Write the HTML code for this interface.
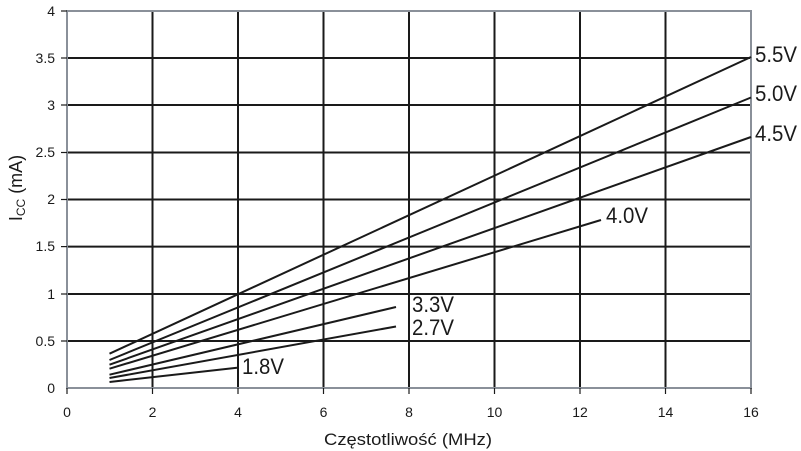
<!DOCTYPE html>
<html><head><meta charset="utf-8"><style>
html,body{margin:0;padding:0;background:#fff;}
svg{display:block;}
text{font-family:"Liberation Sans",Arial,sans-serif;fill:#1a1a1a;}
</style></head><body>
<svg width="801" height="451" viewBox="0 0 801 451" xmlns="http://www.w3.org/2000/svg">
<g stroke="#1a1a1a" stroke-width="2">
<line x1="152.5" y1="11" x2="152.5" y2="388"/>
<line x1="238" y1="11" x2="238" y2="388"/>
<line x1="323.5" y1="11" x2="323.5" y2="388"/>
<line x1="409" y1="11" x2="409" y2="388"/>
<line x1="494.5" y1="11" x2="494.5" y2="388"/>
<line x1="580" y1="11" x2="580" y2="388"/>
<line x1="665.5" y1="11" x2="665.5" y2="388"/>
<line x1="67" y1="58" x2="751" y2="58"/>
<line x1="67" y1="105" x2="751" y2="105"/>
<line x1="67" y1="152.5" x2="751" y2="152.5"/>
<line x1="67" y1="199.5" x2="751" y2="199.5"/>
<line x1="67" y1="246.6" x2="751" y2="246.6"/>
<line x1="67" y1="294" x2="751" y2="294"/>
<line x1="67" y1="341" x2="751" y2="341"/>
</g>
<rect x="67" y="11" width="684" height="377" fill="none" stroke="#8a9099" stroke-width="2"/>
<g stroke="#1a1a1a" stroke-width="1.2">
<line x1="67" y1="388" x2="67" y2="394"/><line x1="152.5" y1="388" x2="152.5" y2="394"/><line x1="238" y1="388" x2="238" y2="394"/><line x1="323.5" y1="388" x2="323.5" y2="394"/><line x1="409" y1="388" x2="409" y2="394"/><line x1="494.5" y1="388" x2="494.5" y2="394"/><line x1="580" y1="388" x2="580" y2="394"/><line x1="665.5" y1="388" x2="665.5" y2="394"/><line x1="751" y1="388" x2="751" y2="394"/>
<line x1="61" y1="11" x2="67" y2="11"/><line x1="61" y1="58" x2="67" y2="58"/><line x1="61" y1="105" x2="67" y2="105"/><line x1="61" y1="152.5" x2="67" y2="152.5"/><line x1="61" y1="199.5" x2="67" y2="199.5"/><line x1="61" y1="246.6" x2="67" y2="246.6"/><line x1="61" y1="294" x2="67" y2="294"/><line x1="61" y1="341" x2="67" y2="341"/>
</g>
<g stroke="#1a1a1a" stroke-width="2" fill="none">
<line x1="109.5" y1="353.7" x2="751" y2="57"/>
<line x1="109.5" y1="360" x2="751" y2="97.5"/>
<line x1="109.5" y1="364.7" x2="751" y2="137"/>
<line x1="109.5" y1="368.7" x2="601" y2="220"/>
<line x1="109.5" y1="374.7" x2="396" y2="307"/>
<line x1="109.5" y1="378" x2="396" y2="326.5"/>
<line x1="109.5" y1="382" x2="237" y2="367.7"/>
</g>
<g font-size="22" lengthAdjust="spacingAndGlyphs">
<text x="755" y="62" textLength="42" lengthAdjust="spacingAndGlyphs">5.5V</text>
<text x="755" y="101" textLength="42" lengthAdjust="spacingAndGlyphs">5.0V</text>
<text x="755" y="141" textLength="42" lengthAdjust="spacingAndGlyphs">4.5V</text>
<text x="606" y="223" textLength="42" lengthAdjust="spacingAndGlyphs">4.0V</text>
<text x="412" y="312" textLength="42" lengthAdjust="spacingAndGlyphs">3.3V</text>
<text x="412" y="335" textLength="42" lengthAdjust="spacingAndGlyphs">2.7V</text>
<text x="242" y="374" textLength="42" lengthAdjust="spacingAndGlyphs">1.8V</text>
</g>
<g font-size="14" text-anchor="end">
<text x="55" y="16">4</text>
<text x="55" y="63">3.5</text>
<text x="55" y="110">3</text>
<text x="55" y="157">2.5</text>
<text x="55" y="204">2</text>
<text x="55" y="251">1.5</text>
<text x="55" y="299">1</text>
<text x="55" y="346">0.5</text>
<text x="55" y="393">0</text>
</g>
<g font-size="14" text-anchor="middle">
<text x="67" y="417">0</text>
<text x="152.5" y="417">2</text>
<text x="238" y="417">4</text>
<text x="323.5" y="417">6</text>
<text x="409" y="417">8</text>
<text x="494.5" y="417">10</text>
<text x="580" y="417">12</text>
<text x="665.5" y="417">14</text>
<text x="751" y="417">16</text>
</g>
<text x="324" y="445" font-size="17" textLength="168" lengthAdjust="spacingAndGlyphs">Częstotliwość (MHz)</text>
<text transform="translate(22,188) rotate(-90)" font-size="18" text-anchor="middle">I<tspan font-size="12" dy="3">CC</tspan><tspan dy="-3"> (mA)</tspan></text>
</svg>
</body></html>
